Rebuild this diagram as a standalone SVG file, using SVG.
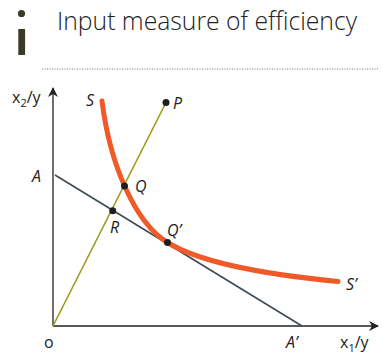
<svg xmlns="http://www.w3.org/2000/svg" width="384" height="355" viewBox="0 0 384 355">
<defs>
<marker id="arr" viewBox="0 0 10 10" refX="9" refY="5" markerWidth="10" markerHeight="10" markerUnits="userSpaceOnUse" orient="auto">
<path d="M0,0 L10,5 L0,10 L3,5 Z" fill="#222"/>
</marker>
</defs>
<style>
.t{font-family:"Open Sans","Noto Sans",sans-serif;fill:#222}
.lbl{font-family:"Open Sans","Noto Sans",sans-serif;font-style:italic;font-size:16px;fill:#222}
.ax{font-family:"Open Sans","Noto Sans",sans-serif;font-size:16px;fill:#222}
.dot{fill:#1e1e1e}
</style>
<rect width="384" height="355" fill="#fff"/>
<g id="title">
<circle cx="21.5" cy="13.5" r="3.6" fill="#3b3a28"/>
<rect x="18.3" y="29" width="6.8" height="26" fill="#3b3a28"/>
<text class="t" x="57" y="29.5" font-size="25" font-weight="300" textLength="300" lengthAdjust="spacingAndGlyphs">Input measure of efficiency</text>
<line x1="42" y1="69" x2="378" y2="69" stroke="#777" stroke-width="1" stroke-dasharray="1,1.5"/>
</g>
<g id="axes">
<line x1="53" y1="326" x2="53" y2="88" stroke="#222" stroke-width="1.3" marker-end="url(#arr)"/>
<line x1="53" y1="326" x2="378" y2="326" stroke="#222" stroke-width="1.3" marker-end="url(#arr)"/>
<text class="ax" x="12" y="103">x<tspan font-size="11" dy="4">2</tspan><tspan dy="-4">/y</tspan></text>
<text class="ax" x="340" y="348">x<tspan font-size="11" dy="4">1</tspan><tspan dy="-4">/y</tspan></text>
<text class="ax" x="44" y="348">o</text>
</g>
<g id="connectors">
<line id="rayOP" x1="53" y1="326" x2="166" y2="102.5" stroke="#9a9a1e" stroke-width="1.6"/>
<line id="lineAA" x1="55" y1="175" x2="302" y2="326" stroke="#3e4a55" stroke-width="1.6"/>
<path id="isoquant" d="M102,101 C110,165 135,222.5 167.5,242.5 C195,259.5 250,273 338,281.5" fill="none" stroke="#f05a28" stroke-width="5" stroke-linecap="round"/>
</g>
<g id="points">
<circle class="dot" cx="166" cy="102.5" r="3.5"/>
<circle class="dot" cx="124.5" cy="186" r="3.5"/>
<circle class="dot" cx="112.7" cy="210.7" r="3.5"/>
<circle class="dot" cx="167.5" cy="242.5" r="3.5"/>
</g>
<g id="labels">
<text class="lbl" x="86" y="106">S</text>
<text class="lbl" x="173" y="109">P</text>
<text class="lbl" x="32" y="182">A</text>
<text class="lbl" x="135" y="192">Q</text>
<text class="lbl" x="110" y="233">R</text>
<text class="lbl" x="167" y="236">Q’</text>
<text class="lbl" x="346" y="290">S’</text>
<text class="lbl" x="286" y="348">A’</text>
</g>
</svg>
